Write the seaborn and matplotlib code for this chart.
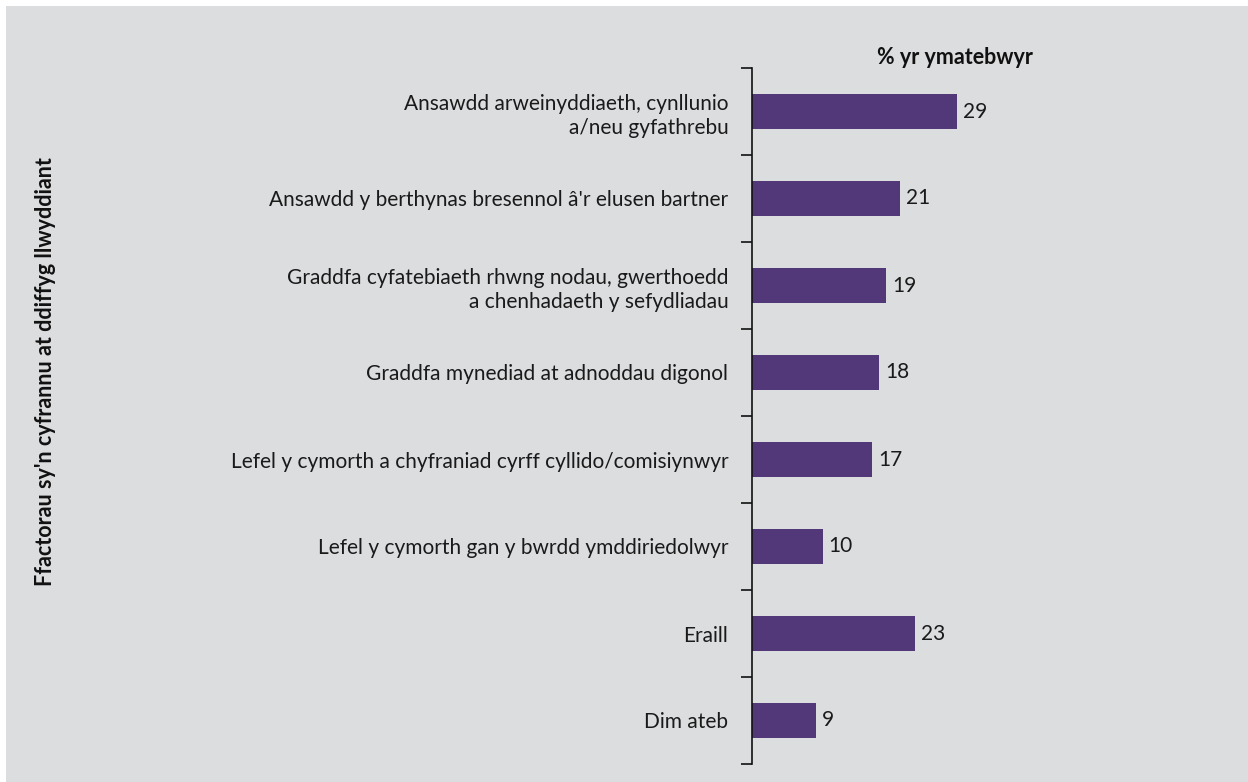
import matplotlib
matplotlib.use("Agg")
import matplotlib.pyplot as plt
import seaborn as sns
import pandas as pd
from matplotlib.patches import Rectangle

categories = [
    "Ansawdd arweinyddiaeth, cynllunio\na/neu gyfathrebu",
    "Ansawdd y berthynas bresennol â'r elusen bartner",
    "Graddfa cyfatebiaeth rhwng nodau, gwerthoedd\na chenhadaeth y sefydliadau",
    "Graddfa mynediad at adnoddau digonol",
    "Lefel y cymorth a chyfraniad cyrff cyllido/comisiynwyr",
    "Lefel y cymorth gan y bwrdd ymddiriedolwyr",
    "Eraill",
    "Dim ateb",
]
values = [29, 21, 19, 18, 17, 10, 23, 9]
x_title = "% yr ymatebwyr"
y_title = "Ffactorau sy'n cyfrannu at ddiffyg llwyddiant"

BG = "#dcdddf"
BAR = "#523879"

sns.set_theme(style="white")
plt.rcParams["font.family"] = ["Lato", "DejaVu Sans"]

df = pd.DataFrame({"cat": categories, "val": values})

fig = plt.figure(figsize=(12.48, 7.82), dpi=100)
fig.patch.set_facecolor("white")
fig.patches.append(Rectangle((6 / 1248, 0), 1 - 6 / 1248, 1 - 6 / 782,
                             transform=fig.transFigure, facecolor=BG,
                             edgecolor="none", zorder=-10))

ax = fig.add_axes([752 / 1248, 1 - 764 / 782, (1240 - 752) / 1248, (764 - 68) / 782])
ax.set_facecolor("none")
sns.barplot(data=df, x="val", y="cat", orient="h", color=BAR, width=0.4,
            saturation=1, edgecolor="none", linewidth=0, ax=ax)

ax.set_xlim(0, 488 / 7.07)
ax.set_ylim(len(categories) - 0.5, -0.5)
for s in ["top", "right", "bottom"]:
    ax.spines[s].set_visible(False)
ax.spines["left"].set_color("#111111")
ax.spines["left"].set_linewidth(1.2)
ax.set_xticks([])
ax.set_xlabel("")
ax.set_ylabel("")

ax.set_yticks(range(len(categories)))
ax.set_yticklabels(categories, fontsize=15, color="#1a1a1a", ha="right",
                   multialignment="right", linespacing=1.25)
ax.tick_params(axis="y", which="major", left=False, length=0, pad=17)
ax.set_yticks([i - 0.5 for i in range(len(categories) + 1)], minor=True)
ax.tick_params(axis="y", which="minor", left=True, length=8, width=1.2,
               color="#111111", direction="out")

for i, v in enumerate(values):
    ax.text(v + 0.85, i, str(v), va="center", ha="left", fontsize=15,
            color="#1a1a1a")

fig.text(1033 / 1248, 1 - 57 / 782, x_title, ha="right", va="center",
         fontsize=15.5, fontweight="bold", color="#111111")
fig.text(46 / 1248, 1 - 372 / 782, y_title, rotation=90, ha="center",
         va="center", fontsize=15.5, fontweight="bold", color="#111111")

fig.savefig("out.png", dpi=100, facecolor="white")
